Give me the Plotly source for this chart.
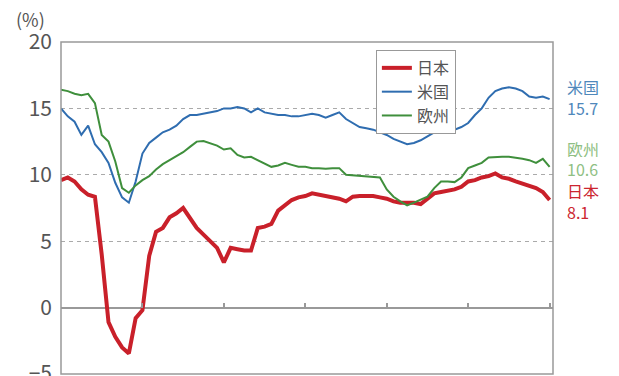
import plotly.graph_objects as go

months = list(range(73))
tick_months = [0, 12, 24, 36, 48, 60, 72]
y_ticks = [-5, 0, 5, 10, 15, 20]

japan = [9.6, 9.8, 9.5, 8.9, 8.5, 8.35, 4.0, -1.1, -2.2, -3.0,
         -3.45, -0.8, -0.2, 3.9, 5.7, 6.0, 6.8, 7.1, 7.5, 6.7,
         6.0, 5.5, 5.0, 4.5, 3.4, 4.5, 4.4, 4.3, 4.3, 6.0,
         6.1, 6.3, 7.3, 7.7, 8.1, 8.3, 8.4, 8.6, 8.5, 8.4,
         8.35, 8.2, 8.0, 8.35, 8.4, 8.4, 8.4, 8.3, 8.2, 8.0,
         7.9, 7.9, 7.9, 7.8, 8.2, 8.6, 8.7, 8.8, 8.9, 9.1,
         9.5, 9.6, 9.8, 9.9, 10.1, 9.8, 9.7, 9.5, 9.35, 9.15,
         9.0, 8.7, 8.1]

usa = [15.0, 14.4, 14.0, 13.0, 13.7, 12.3, 11.7, 10.9, 9.4, 8.3,
       7.9, 9.5, 11.6, 12.4, 12.8, 13.2, 13.4, 13.7, 14.2, 14.5,
       14.5, 14.6, 14.7, 14.8, 15.0, 15.0, 15.1, 15.0, 14.7, 15.0,
       14.7, 14.6, 14.5, 14.5, 14.4, 14.4, 14.5, 14.6, 14.5, 14.3,
       14.5, 14.7, 14.2, 13.9, 13.6, 13.5, 13.4, 13.2, 13.0, 12.7,
       12.5, 12.3, 12.4, 12.6, 12.9, 13.2, 13.5, 13.5, 13.4, 13.6,
       13.9, 14.5, 15.0, 15.8, 16.3, 16.5, 16.6, 16.5, 16.3, 15.9,
       15.8, 15.9, 15.7]

europe = [16.4, 16.3, 16.1, 16.0, 16.1, 15.4, 13.0, 12.5, 11.0, 9.0,
          8.65, 9.2, 9.6, 9.9, 10.4, 10.8, 11.1, 11.4, 11.7, 12.1,
          12.5, 12.55, 12.4, 12.2, 11.9, 12.0, 11.5, 11.3, 11.35, 11.1,
          10.9, 10.6, 10.7, 10.9, 10.75, 10.6, 10.6, 10.5, 10.5, 10.45,
          10.5, 10.5, 10.0, 9.95, 9.9, 9.85, 9.8, 9.8, 8.9, 8.35,
          8.0, 7.7, 7.9, 8.1, 8.35, 9.0, 9.5, 9.5, 9.45, 9.8,
          10.5, 10.7, 10.9, 11.3, 11.35, 11.35, 11.35, 11.3, 11.2, 11.1,
          10.9, 11.2, 10.6]

names = ["日本", "米国", "欧州"]
end_labels = ["8.1", "15.7", "10.6"]

FONT = "Noto Sans CJK JP"
RED = "#c9202a"
BLUE = "#2f6db0"
GREEN = "#3f8f3c"

fig = go.Figure()
fig.add_trace(go.Scatter(x=months, y=japan, name=names[0], mode="lines",
                         line=dict(color=RED, width=4)))
fig.add_trace(go.Scatter(x=months, y=usa, name=names[1], mode="lines",
                         line=dict(color=BLUE, width=2)))
fig.add_trace(go.Scatter(x=months, y=europe, name=names[2], mode="lines",
                         line=dict(color=GREEN, width=2)))

# right-side labels: (text, y position in data units, colour)
side_labels = [
    (names[1], 16.6, "#4f88bb"), (end_labels[1], 15.02, "#4f88bb"),
    (names[2], 11.98, "#8fbf84"), (end_labels[2], 10.4, "#8fbf84"),
    (names[0], 8.8, "#cc2630"), (end_labels[0], 7.22, "#cc2630"),
]
for txt, yy, col in side_labels:
    fig.add_annotation(text=txt, xref="paper", yref="y", x=1, xshift=13, y=yy,
                       xanchor="left", yanchor="middle", showarrow=False,
                       align="left", valign="middle", height=16, borderpad=0,
                       font=dict(family=FONT, size=16, color=col))

fig.add_annotation(text="(%)", xref="paper", yref="paper", x=-0.095, y=1.07,
                   xanchor="left", yanchor="middle", showarrow=False,
                   font=dict(family=FONT, size=18, color="#555"))

fig.add_shape(type="rect", xref="paper", yref="paper", x0=0, x1=1, y0=0, y1=1,
              line=dict(color="#999", width=1.5), layer="above")

fig.update_layout(
    width=619, height=376,
    margin=dict(l=61, r=66, t=42, b=2, autoexpand=False),
    paper_bgcolor="white", plot_bgcolor="white",
    font=dict(family=FONT, color="#555"),
    showlegend=True,
    legend=dict(x=0.64, y=0.976, xanchor="left", yanchor="top",
                bgcolor="white", bordercolor="#999", borderwidth=1,
                font=dict(family=FONT, size=16, color="#555"),
                tracegroupgap=0, itemwidth=30),
    xaxis=dict(range=[0, 72.5], tickvals=tick_months, showticklabels=False,
               ticks="inside", ticklen=5, tickcolor="#999", tickwidth=1.5,
               anchor="free", position=0.2, showgrid=False, zeroline=False,
               showline=False, automargin=False),
    yaxis=dict(range=[-5, 20], tickvals=y_ticks, ticks="", ticklabelstandoff=8,
               ticklabeloverflow="allow", automargin=False,
               tickfont=dict(family=FONT, size=21, color="#555"),
               showgrid=True, gridcolor="#aaa", griddash="4px,4px", gridwidth=1,
               zeroline=True, zerolinecolor="#999", zerolinewidth=1.5,
               showline=False),
)

fig.write_html("out.html")
